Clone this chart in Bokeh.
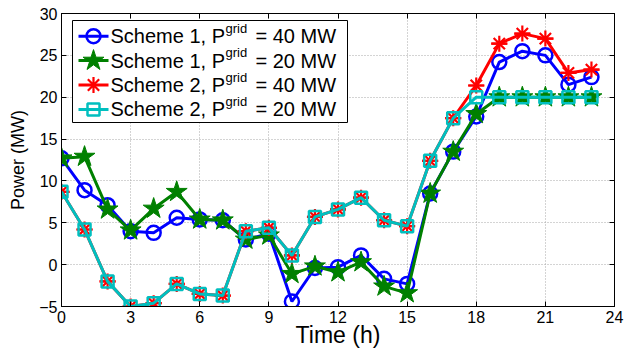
from bokeh.plotting import figure
from bokeh.models import Range1d, FixedTicker, LinearAxis, ColumnDataSource
from bokeh.core.properties import value
from bokeh.embed import file_html
from bokeh.resources import INLINE

# ---- data ----
hours = list(range(24))
scheme1_40 = [12.7, 8.9, 7.1, 4.0, 3.8, 5.6, 5.4, 5.3, 3.0, 3.7, -4.4, -0.4, -0.3, 1.1,
              -1.7, -2.3, 8.5, 13.5, 17.7, 24.2, 25.5, 25.0, 21.5, 22.4]
scheme1_20 = [12.7, 12.9, 6.6, 4.1, 6.7, 8.7, 5.4, 5.3, 3.0, 3.5, -1.1, -0.2, -0.9, 0.3,
              -2.6, -3.4, 8.5, 13.5, 18.0, 20.0, 20.0, 20.0, 20.0, 20.0]
scheme2_40 = [8.7, 4.2, -2.0, -5.0, -4.6, -2.3, -3.5, -3.7, 4.0, 4.4, 1.1, 5.7, 6.6, 8.0,
              5.3, 4.6, 12.4, 17.5, 21.4, 26.4, 27.6, 27.0, 22.9, 23.3]
scheme2_20 = [8.7, 4.2, -2.0, -5.0, -4.6, -2.3, -3.5, -3.7, 4.0, 4.4, 1.1, 5.7, 6.6, 8.0,
              5.3, 4.6, 12.4, 17.5, 20.0, 20.0, 20.0, 20.0, 20.0, 20.0]
x_ticks = [0, 3, 6, 9, 12, 15, 18, 21, 24]
y_ticks = [-5, 0, 5, 10, 15, 20, 25, 30]
legend_main = ["Scheme 1, P", "Scheme 1, P", "Scheme 2, P", "Scheme 2, P"]
legend_sup = ["grid", "grid", "grid", "grid"]
legend_tail = ["= 40 MW", "= 20 MW", "= 40 MW", "= 20 MW"]

FONT = "Liberation Sans"
W, H = 624, 350
BL, BR, BT, BB = 61, 10, 13, 44

p = figure(width=W, height=H, output_backend="svg", toolbar_location=None,
           x_range=Range1d(0, 24), y_range=Range1d(-5, 30),
           min_border_left=BL, min_border_right=BR, min_border_top=BT, min_border_bottom=BB,
           background_fill_color="white", border_fill_color="white")
p.outline_line_color = "black"
p.outline_line_width = 1

for ax in (p.xaxis[0], p.yaxis[0]):
    ax.major_tick_in = 5
    ax.major_tick_out = 0
    ax.minor_tick_line_color = None
    ax.axis_line_color = "black"
    ax.major_tick_line_color = "black"
    ax.major_label_text_font = FONT
    ax.major_label_text_font_size = "16px"
    ax.major_label_text_color = "black"
    ax.axis_label_text_font = FONT
    ax.axis_label_text_font_style = "normal"
    ax.axis_label_text_color = "black"

p.xaxis.ticker = FixedTicker(ticks=x_ticks)
p.yaxis.ticker = FixedTicker(ticks=y_ticks)
p.yaxis.major_label_overrides = {-5: "\u22125"}
p.xaxis.axis_label = "Time (h)"
p.yaxis.axis_label = "Power (MW)"
p.xaxis.axis_label_text_font_size = "23px"
p.yaxis.axis_label_text_font_size = "18px"
p.xaxis.major_label_standoff = 4
p.yaxis.major_label_standoff = 4
p.xaxis.axis_label_standoff = -4
p.yaxis.axis_label_standoff = 8

# mirrored axes (ticks only) on top and right
top = LinearAxis(ticker=FixedTicker(ticks=x_ticks), major_label_overrides={t: "" for t in x_ticks},
                 major_label_text_font_size="0px", major_label_standoff=0,
                 major_tick_in=5, major_tick_out=0, minor_tick_line_color=None,
                 axis_line_color="black")
right = LinearAxis(ticker=FixedTicker(ticks=y_ticks), major_label_overrides={t: "" for t in y_ticks},
                   major_label_text_font_size="0px", major_label_standoff=0,
                   major_tick_in=5, major_tick_out=0, minor_tick_line_color=None,
                   axis_line_color="black")
p.add_layout(top, "above")
p.add_layout(right, "right")

p.xgrid.ticker = FixedTicker(ticks=x_ticks)
p.ygrid.ticker = FixedTicker(ticks=y_ticks)
p.grid.grid_line_color = "#a8a8a8"
p.grid.grid_line_dash = "1 2"
p.grid.grid_line_width = 1

BLUE, GREEN, RED, CYAN = "#0000ff", "#008000", "#ff0000", "#00bfbf"
LW = 3
STYLES = [
    dict(color=BLUE, markers=[dict(marker="circle", size=14, line_width=2.5, fill_color=None)]),
    dict(color=GREEN, markers=[dict(marker="star", size=22, line_width=1, fill_color=GREEN)]),
    dict(color=RED, markers=[dict(marker="asterisk", size=16, line_width=2.2),
                             dict(marker="dash", size=16, line_width=2.2)]),
    dict(color=CYAN, markers=[dict(marker="square", size=12, line_width=2.5, fill_color=None)]),
]
series = [scheme1_40, scheme1_20, scheme2_40, scheme2_20]

for vals, st in zip(series, STYLES):
    p.line(hours, vals, line_color=st["color"], line_width=LW)
    for m in st["markers"]:
        p.scatter(hours, vals, line_color=st["color"], **m)

# ---- legend box (layout in screen pixels, converted to data space) ----
frame_w = W - BL - BR
frame_h = H - BT - BB


def sx(px):
    return (px - BL) / frame_w * 24


def sy(py):
    return 30 - (py - BT) / frame_h * 35


LEG_L, LEG_R, LEG_T, LEG_B = 72, 347, 20, 122
ROW0, ROW_STEP = 35.7, 24.4
rows_c = [ROW0 + i * ROW_STEP for i in range(4)]

p.quad(left=[sx(LEG_L)], right=[sx(LEG_R)], top=[sy(LEG_T)], bottom=[sy(LEG_B)],
       fill_color="white", line_color="black", line_width=1)
for i, st in enumerate(STYLES):
    yy = sy(rows_c[i])
    p.line([sx(78), sx(108)], [yy, yy], line_color=st["color"], line_width=LW)
    for m in st["markers"]:
        p.scatter([sx(93)], [yy], line_color=st["color"], **m)

main_src = ColumnDataSource(dict(x=[sx(110)] * 4, y=[sy(c) for c in rows_c], t=legend_main))
sup_src = ColumnDataSource(dict(x=[sx(225)] * 4, y=[sy(c - 8) for c in rows_c], t=legend_sup))
tail_src = ColumnDataSource(dict(x=[sx(255)] * 4, y=[sy(c) for c in rows_c], t=legend_tail))
p.text(x="x", y="y", text="t", source=main_src, text_font=value(FONT),
       text_font_size="20px", text_baseline="middle", text_color="black")
p.text(x="x", y="y", text="t", source=sup_src, text_font=value(FONT),
       text_font_size="13px", text_baseline="middle", text_color="black")
p.text(x="x", y="y", text="t", source=tail_src, text_font=value(FONT),
       text_font_size="20px", text_baseline="middle", text_color="black")

open("out.html", "w").write(file_html(p, INLINE))
